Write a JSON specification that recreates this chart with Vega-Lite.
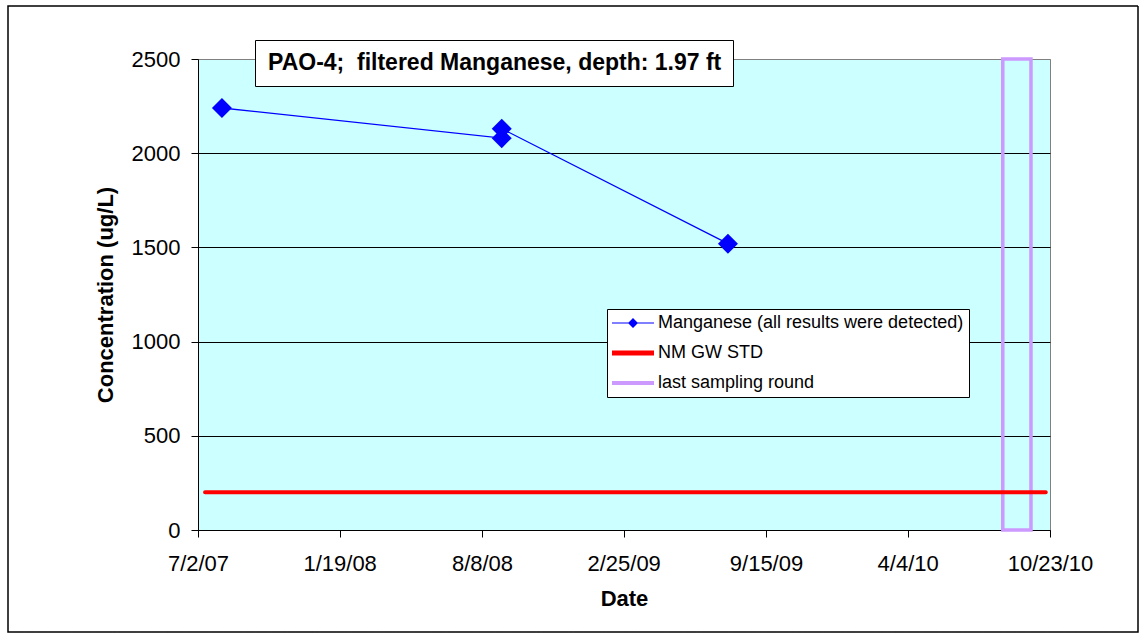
{
  "$schema": "https://vega.github.io/schema/vega-lite/v6.json",
  "width": 852,
  "height": 471,
  "autosize": {"type": "none"},
  "padding": {"left": 198, "top": 59, "right": 95, "bottom": 109},
  "background": "white",
  "config": {
    "font": "Liberation Sans",
    "view": {"fill": "#CCFFFF", "stroke": "#808080", "strokeWidth": 1}
  },
  "datasets": {
    "mn": [
      {"date": "2007-08-05", "mn": 2240},
      {"date": "2008-09-05", "mn": 2080},
      {"date": "2008-09-05", "mn": 2130},
      {"date": "2009-07-23", "mn": 1520}
    ],
    "std": [{"start": "2007-07-12", "end": "2010-10-17", "std": 200}],
    "last": [{"start": "2010-08-17", "end": "2010-09-26", "low": 0, "high": 2500}]
  },
  "layer": [
    {
      "data": {"name": "last"},
      "mark": {"type": "rect", "filled": false, "strokeWidth": 3.5},
      "encoding": {
        "x": {
          "field": "start", "type": "temporal",
          "scale": {"type": "utc", "domain": [{"year": 2007, "month": 7, "date": 2, "utc": true}, {"year": 2010, "month": 10, "date": 23, "utc": true}]},
          "axis": {
            "title": "Date",
            "values": [
              {"year": 2007, "month": 7, "date": 2, "utc": true},
              {"year": 2008, "month": 1, "date": 19, "utc": true},
              {"year": 2008, "month": 8, "date": 8, "utc": true},
              {"year": 2009, "month": 2, "date": 25, "utc": true},
              {"year": 2009, "month": 9, "date": 15, "utc": true},
              {"year": 2010, "month": 4, "date": 4, "utc": true},
              {"year": 2010, "month": 10, "date": 23, "utc": true}
            ],
            "format": "%-m/%-d/%y",
            "grid": false,
            "labelFontSize": 22,
            "labelColor": "black",
            "labelPadding": 16,
            "labelFlush": false,
            "labelOverlap": false,
            "labelBound": false,
            "tickSize": 7,
            "tickColor": "black",
            "domainColor": "black",
            "titleFontSize": 22,
            "titleFontWeight": "bold",
            "titleColor": "black",
            "titlePadding": 14
          }
        },
        "x2": {"field": "end"},
        "y": {
          "field": "low", "type": "quantitative",
          "scale": {"domain": [0, 2500], "nice": false, "zero": true},
          "axis": {
            "title": "Concentration (ug/L)",
            "values": [0, 500, 1000, 1500, 2000, 2500],
            "format": "d",
            "grid": true,
            "gridColor": {"condition": {"test": "datum.value >= 2500", "value": "#808080"}, "value": "black"},
            "gridOpacity": 1,
            "gridWidth": 1,
            "labelFontSize": 22,
            "labelColor": "black",
            "labelPadding": 11,
            "tickSize": 7,
            "tickColor": "black",
            "domainColor": "black",
            "titleFontSize": 22,
            "titleFontWeight": "bold",
            "titleColor": "black",
            "titlePadding": 14
          }
        },
        "y2": {"field": "high"},
        "color": {
          "datum": "last sampling round",
          "scale": {
            "domain": ["Manganese (all results were detected)", "NM GW STD", "last sampling round"],
            "range": ["#0000FF", "#FF0000", "#CC99FF"]
          },
          "legend": {
            "title": null,
            "orient": "none",
            "direction": "vertical",
            "legendX": 409,
            "legendY": 250,
            "fillColor": "white",
            "strokeColor": "black",
            "padding": 5,
            "labelFontSize": 18,
            "labelColor": "black",
            "labelLimit": 0,
            "symbolSize": 100,
            "labelOffset": 28,
            "rowPadding": 12,
            "encoding": {
              "symbols": {
                "shape": {"value": {"expr": "datum.value == 'NM GW STD' ? 'M-1.8,-0.5L6.6,-0.5L6.6,0.5L-1.8,0.5Z' : datum.value == 'last sampling round' ? 'M-1.8,-0.4L6.6,-0.4L6.6,0.4L-1.8,0.4Z' : 'M-1.8,-0.12L6.6,-0.12L6.6,0.12L-1.8,0.12Z M2.4,-1L3.4,0L2.4,1L1.4,0Z'"}},
                "fill": {"value": {"expr": "scale('color', datum.value)"}},
                "strokeWidth": {"value": 0},
                "opacity": {"value": 1}
              }
            }
          }
        }
      }
    },
    {
      "data": {"name": "std"},
      "mark": {"type": "rule", "strokeWidth": 4, "strokeCap": "round"},
      "encoding": {
        "x": {"field": "start", "type": "temporal", "scale": {"type": "utc"}},
        "x2": {"field": "end"},
        "y": {"field": "std", "type": "quantitative"},
        "color": {"datum": "NM GW STD"},
        "strokeDash": {
          "datum": " ",
          "scale": {"range": [[1, 0]]},
          "legend": {
            "title": null,
            "orient": "none",
            "legendX": -191,
            "legendY": -306,
            "padding": 0,
            "labelFontSize": 1,
            "labelColor": "white",
            "symbolSize": 1276900,
            "encoding": {
              "symbols": {
                "shape": {"value": "M-1,-0.554L1,-0.554L1,0.554L-1,0.554Z"},
                "fill": {"value": "transparent"},
                "stroke": {"value": "black"},
                "strokeWidth": {"value": 1.5},
                "opacity": {"value": 1}
              }
            }
          }
        }
      }
    },
    {
      "data": {"name": "mn"},
      "mark": {"type": "line", "strokeWidth": 1.3},
      "encoding": {
        "x": {"field": "date", "type": "temporal", "scale": {"type": "utc"}},
        "y": {"field": "mn", "type": "quantitative"},
        "color": {"datum": "Manganese (all results were detected)"}
      }
    },
    {
      "data": {"name": "mn"},
      "mark": {"type": "point", "filled": true, "size": 400, "opacity": 1},
      "encoding": {
        "x": {"field": "date", "type": "temporal", "scale": {"type": "utc"}},
        "y": {"field": "mn", "type": "quantitative"},
        "color": {"datum": "Manganese (all results were detected)"},
        "shape": {
          "datum": "PAO-4;\u00a0 filtered Manganese, depth: 1.97 ft",
          "scale": {"range": ["diamond"]},
          "legend": {
            "title": null,
            "orient": "none",
            "legendX": 57,
            "legendY": -19,
            "fillColor": "white",
            "strokeColor": "black",
            "padding": 11,
            "labelFontSize": 23,
            "labelFontWeight": "bold",
            "labelColor": "black",
            "labelLimit": 0,
            "labelOffset": -21,
            "symbolSize": 0,
            "symbolOpacity": 0,
            "symbolStrokeWidth": 0
          }
        }
      }
    }
  ]
}
